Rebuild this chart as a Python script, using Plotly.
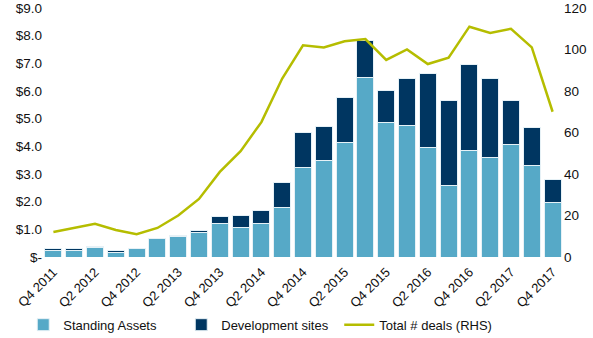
import plotly.graph_objects as go

# Quarterly investment volumes ($bn) and deal count
quarters = [
    "Q4 2011", "Q1 2012", "Q2 2012", "Q3 2012", "Q4 2012",
    "Q1 2013", "Q2 2013", "Q3 2013", "Q4 2013",
    "Q1 2014", "Q2 2014", "Q3 2014", "Q4 2014",
    "Q1 2015", "Q2 2015", "Q3 2015", "Q4 2015",
    "Q1 2016", "Q2 2016", "Q3 2016", "Q4 2016",
    "Q1 2017", "Q2 2017", "Q3 2017", "Q4 2017",
]
standing_assets = [
    0.24, 0.23, 0.34, 0.18, 0.30,
    0.66, 0.74, 0.88, 1.20,
    1.08, 1.20, 1.79, 3.22,
    3.50, 4.15, 6.50, 4.87,
    4.74, 3.97, 2.60, 3.84,
    3.60, 4.05, 3.29, 1.96,
]
development_sites = [
    0.05, 0.08, 0.03, 0.04, 0.01,
    0.01, 0.03, 0.06, 0.25,
    0.43, 0.49, 0.90, 1.29,
    1.20, 1.61, 1.32, 1.15,
    1.70, 2.66, 3.04, 3.13,
    2.86, 1.62, 1.38, 0.85,
]
total_deals = [
    12, 14, 16, 13, 11,
    14, 20, 28, 41,
    51, 65, 86, 102,
    101, 104, 105, 95,
    100, 93, 96, 111,
    108, 110, 101, 70,
]
tick_labels = quarters[::2]

x = list(range(len(quarters)))
font = "Liberation Sans, Arial, sans-serif"

fig = go.Figure()
fig.add_trace(go.Bar(
    x=x, y=standing_assets, name="Standing Assets",
    marker=dict(color="#56A9C7", line=dict(color="#E6F1F6", width=1)),
))
fig.add_trace(go.Bar(
    x=x, y=development_sites, name="Development sites",
    marker=dict(color="#003661", line=dict(color="#E6F1F6", width=1)),
))
fig.add_trace(go.Scatter(
    x=x, y=total_deals, name="Total # deals (RHS)", yaxis="y2",
    mode="lines", line=dict(color="#B5BD00", width=2.5),
))

fig.update_layout(
    width=593, height=338,
    margin=dict(l=43, r=30, t=8, b=81, autoexpand=False),
    barmode="stack", bargap=0.18,
    plot_bgcolor="white", paper_bgcolor="white",
    font=dict(family=font, size=13.5, color="#111111"),
    showlegend=True,
    legend=dict(
        orientation="h", x=-0.038, xanchor="left", y=-0.272, yanchor="middle",
        font=dict(size=13), entrywidth=113, entrywidthmode="pixels",
        traceorder="normal", itemwidth=30,
    ),
    xaxis=dict(
        range=[-0.5, 24.5], tickvals=x[::2], ticktext=tick_labels,
        tickangle=-45, showgrid=False, showline=False, zeroline=False,
        ticks="", tickfont=dict(size=13), automargin=False,
        ticklabelstandoff=4,
    ),
    yaxis=dict(
        range=[0, 9], tickvals=[0, 1, 2, 3, 4, 5, 6, 7, 8, 9],
        ticktext=["$-", "$1.0", "$2.0", "$3.0", "$4.0", "$5.0",
                  "$6.0", "$7.0", "$8.0", "$9.0"],
        showgrid=False, zeroline=False, showline=False, ticks="",
        automargin=False,
    ),
    yaxis2=dict(
        range=[0, 120], tickvals=[0, 20, 40, 60, 80, 100, 120],
        overlaying="y", side="right", showgrid=False, zeroline=False,
        showline=False, ticks="", automargin=False,
    ),
)

fig.write_html("out.html")
